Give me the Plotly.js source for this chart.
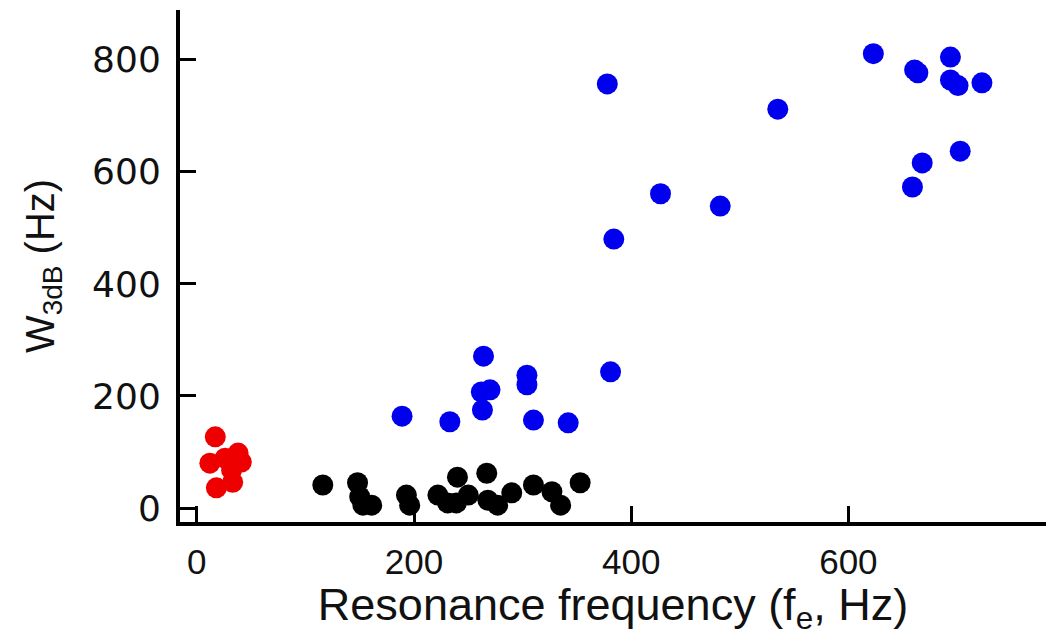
<!DOCTYPE html>
<html><head><meta charset="utf-8">
<script src="https://cdn.plot.ly/plotly-3.0.1.min.js"></script>
<style>html,body{margin:0;padding:0;background:#fff;}#chart{width:1046px;height:636px;}</style>
</head><body><div id="chart"></div>
<script>
const redX = [17, 12, 26, 38, 41, 32, 33, 18];
const redY = [127, 80, 89, 98, 82, 68, 46, 36];
const blackX = [116, 148, 150, 153, 161, 193, 196, 222, 231, 240, 239, 250, 267, 268, 277, 290, 310, 327, 335, 353];
const blackY = [41, 45, 20, 5, 5, 23, 5, 23, 9, 55, 9, 23, 62, 14, 5, 27, 41, 29, 5, 45];
const blueX = [189, 233, 264, 262, 270, 263, 304, 304, 310, 342, 381, 378, 427, 482, 384, 535, 623, 661, 664, 694, 694, 701, 723, 668, 659, 703];
const blueY = [164, 154, 271, 207, 211, 175, 237, 220, 157, 152, 243, 757, 561, 539, 480, 712, 811, 782, 777, 805, 764, 754, 759, 616, 573, 637];
const xTicks = [0, 200, 400, 600];
const yTicks = [0, 200, 400, 600, 800];

const mk = (x, y, c) => ({x, y, type: 'scatter', mode: 'markers', marker: {color: c, size: 21, line: {width: 0}}, hoverinfo: 'x+y'});
const data = [mk(blueX, blueY, '#0000ee'), mk(blackX, blackY, '#000000'), mk(redX, redY, '#ee0000')];

const layout = {
  width: 1046, height: 636,
  margin: {l: 180, r: 0, t: 10, b: 114},
  showlegend: false,
  paper_bgcolor: '#fff', plot_bgcolor: '#fff',
  xaxis: {
    range: [-15.5, 782], tickvals: xTicks, ticktext: xTicks.map(String),
    showgrid: false, zeroline: false, showline: true, linecolor: '#000', linewidth: 4,
    ticks: 'inside', ticklen: 16, tickwidth: 3, tickcolor: '#000',
    tickfont: {family: 'Liberation Sans, Arial, sans-serif', size: 35, color: '#111'},
    ticklabelstandoff: 6,
    automargin: true,
    title: {text: 'Resonance frequency (f<sub>e</sub>, Hz)', font: {family: 'Liberation Sans, Arial, sans-serif', size: 45, color: '#111'}, standoff: 10}
  },
  yaxis: {
    range: [-25, 889], tickvals: yTicks, ticktext: yTicks.map(String),
    showgrid: false, zeroline: false, showline: true, linecolor: '#000', linewidth: 4,
    ticks: 'inside', ticklen: 16, tickwidth: 3, tickcolor: '#000',
    tickfont: {family: 'DejaVu Sans, sans-serif', size: 36, color: '#111'},
    ticklabelstandoff: 8,
    title: {text: 'W<sub>3dB</sub> (Hz)', font: {family: 'Liberation Sans, Arial, sans-serif', size: 40, color: '#111'}, standoff: 26}
  }
};
Plotly.newPlot('chart', data, layout, {displayModeBar: false, staticPlot: true});
</script></body></html>
